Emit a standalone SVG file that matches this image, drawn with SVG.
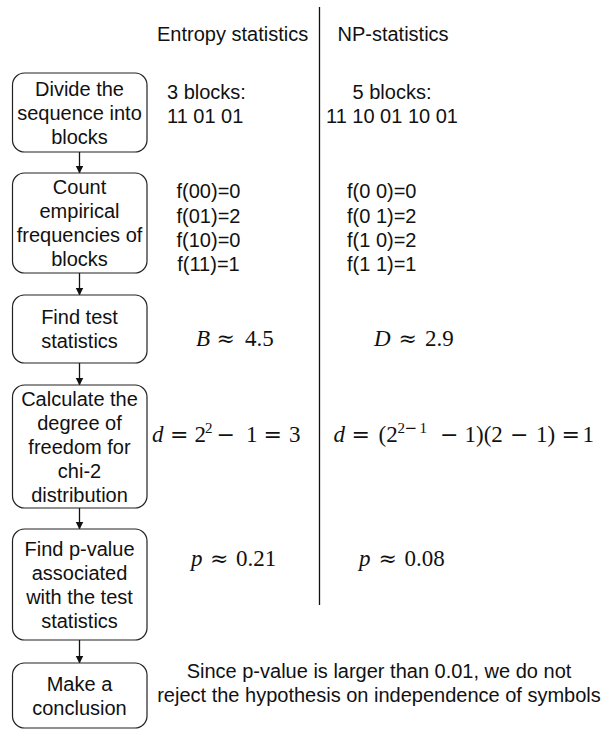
<svg xmlns="http://www.w3.org/2000/svg" width="601" height="729" viewBox="0 0 601 729">
<style>
.box{fill:#fff;stroke:#222;stroke-width:1.2}
.t{font-family:"Liberation Sans",Arial,sans-serif;font-size:20px;fill:#111}
.c{text-anchor:middle}
.m{font-family:"Liberation Serif","Times New Roman",serif;font-size:23px;fill:#111}
.i{font-style:italic}
.sup{font-size:15px}
.op{font-family:"DejaVu Serif",serif;font-size:22px}
.sop{font-family:"DejaVu Serif",serif;font-size:15px}
.conn{stroke:#111;stroke-width:1.3;fill:none;marker-end:url(#ah)}
</style>
<defs>
<marker id="ah" markerWidth="8" markerHeight="10" refX="7.5" refY="4" orient="auto" markerUnits="userSpaceOnUse" viewBox="0 0 8 8">
<path d="M0,0 L8,4 L0,8 Z" fill="#111"/>
</marker>
</defs>
<rect width="601" height="729" fill="#fff"/>
<line x1="319.5" y1="7" x2="319.5" y2="605" stroke="#111" stroke-width="1.3"/>
<text class="t" x="157" y="41">Entropy statistics</text>
<text class="t" x="337.5" y="41">NP-statistics</text>

<g id="connectors">
<line class="conn" x1="79.5" y1="152" x2="79.5" y2="173"/>
<line class="conn" x1="79.5" y1="273" x2="79.5" y2="295"/>
<line class="conn" x1="79.5" y1="363" x2="79.5" y2="385"/>
<line class="conn" x1="79.5" y1="508" x2="79.5" y2="529"/>
<line class="conn" x1="79.5" y1="640" x2="79.5" y2="663"/>
</g>

<g id="n1">
<rect class="box" x="12.5" y="73" width="134.5" height="79" rx="12"/>
<text class="t c" x="79.5" y="95.5">Divide the</text>
<text class="t c" x="79.5" y="119.5">sequence into</text>
<text class="t c" x="79.5" y="143.5">blocks</text>
</g>
<g id="n2">
<rect class="box" x="12.5" y="173" width="134.5" height="100" rx="12"/>
<text class="t c" x="79.5" y="194">Count</text>
<text class="t c" x="79.5" y="218">empirical</text>
<text class="t c" x="79.5" y="242">frequencies of</text>
<text class="t c" x="79.5" y="266">blocks</text>
</g>
<g id="n3">
<rect class="box" x="12.5" y="295" width="134.5" height="68" rx="12"/>
<text class="t c" x="79.5" y="324">Find test</text>
<text class="t c" x="79.5" y="348">statistics</text>
</g>
<g id="n4">
<rect class="box" x="12.5" y="385" width="134.5" height="123" rx="12"/>
<text class="t c" x="79.5" y="405.5">Calculate the</text>
<text class="t c" x="79.5" y="429.5">degree of</text>
<text class="t c" x="79.5" y="453.5">freedom for</text>
<text class="t c" x="79.5" y="477.5">chi-2</text>
<text class="t c" x="79.5" y="501.5">distribution</text>
</g>
<g id="n5">
<rect class="box" x="12.5" y="529" width="134.5" height="111" rx="12"/>
<text class="t c" x="79.5" y="555.5">Find p-value</text>
<text class="t c" x="79.5" y="579.5">associated</text>
<text class="t c" x="79.5" y="603.5">with the test</text>
<text class="t c" x="79.5" y="627.5">statistics</text>
</g>
<g id="n6">
<rect class="box" x="12.5" y="663" width="134.5" height="65" rx="12"/>
<text class="t c" x="79.5" y="690.5">Make a</text>
<text class="t c" x="79.5" y="714.5">conclusion</text>
</g>

<g id="entropy-col">
<text class="t" x="167" y="99">3 blocks:</text>
<text class="t" x="167" y="123">11 01 01</text>
<text class="t c" x="208.5" y="198">f(00)=0</text>
<text class="t c" x="208.5" y="222.5">f(01)=2</text>
<text class="t c" x="208.5" y="246.5">f(10)=0</text>
<text class="t c" x="208.5" y="270.5">f(11)=1</text>
<text class="m" y="346"><tspan class="i" x="196">B</tspan><tspan class="op" x="216.5">≈</tspan><tspan x="245">4.5</tspan></text>
<text class="m" y="442"><tspan class="i" x="152">d</tspan><tspan class="op" x="170">=</tspan><tspan x="194.5">2</tspan><tspan class="sup" x="205" dy="-9">2</tspan><tspan class="op" x="216.5" dy="9">−</tspan><tspan x="246">1</tspan><tspan class="op" x="263.5">=</tspan><tspan x="289">3</tspan></text>
<text class="m" y="566"><tspan class="i" x="191">p</tspan><tspan class="op" x="210">≈</tspan><tspan x="236">0.21</tspan></text>
</g>

<g id="np-col">
<text class="t c" x="392" y="99">5 blocks:</text>
<text class="t c" x="392" y="123">11 10 01 10 01</text>
<text class="t" x="347" y="198">f(0 0)=0</text>
<text class="t" x="347" y="222.5">f(0 1)=2</text>
<text class="t" x="347" y="246.5">f(1 0)=2</text>
<text class="t" x="347" y="270.5">f(1 1)=1</text>
<text class="m" y="346"><tspan class="i" x="374">D</tspan><tspan class="op" x="398.5">≈</tspan><tspan x="425">2.9</tspan></text>
<text class="m" y="442"><tspan class="i" x="333.5">d</tspan><tspan class="op" x="351.5">=</tspan><tspan x="378.5">(2</tspan><tspan class="sup" x="397.5" dy="-9">2</tspan><tspan class="sop" x="404.5">−</tspan><tspan class="sup" x="419.5">1</tspan><tspan class="op" x="440" dy="9">−</tspan><tspan x="464.5">1)(2</tspan><tspan class="op" x="510">−</tspan><tspan x="536">1)</tspan><tspan class="op" x="561.5">=</tspan><tspan x="582.5">1</tspan></text>
<text class="m" y="566"><tspan class="i" x="359">p</tspan><tspan class="op" x="378.5">≈</tspan><tspan x="404.5">0.08</tspan></text>
</g>

<g id="conclusion">
<text class="t c" x="379" y="677.5">Since p-value is larger than 0.01, we do not</text>
<text class="t c" x="379" y="701.5">reject the hypothesis on independence of symbols</text>
</g>
</svg>
